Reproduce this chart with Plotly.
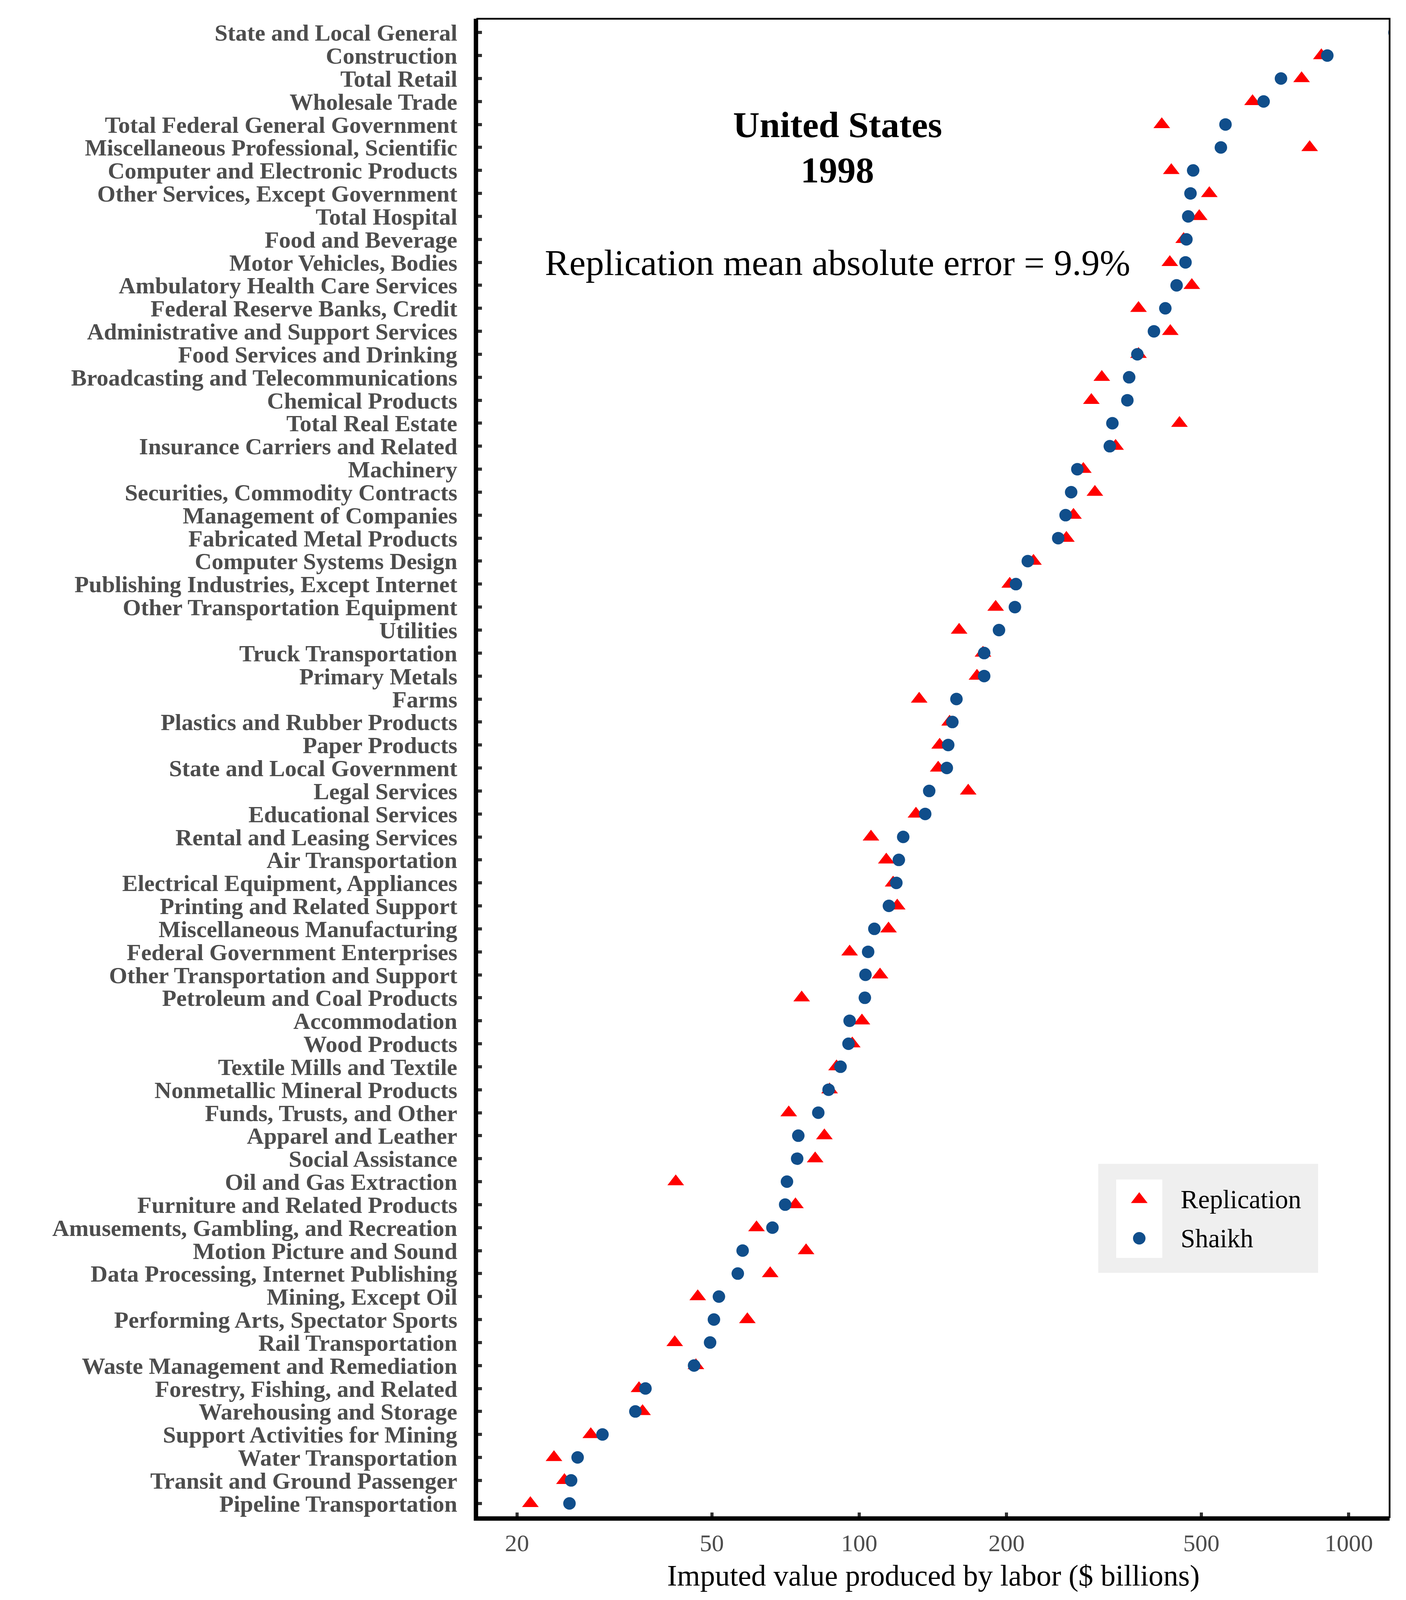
import plotly.graph_objects as go

industries = [
    "State and Local General", "Construction", "Total Retail", "Wholesale Trade",
    "Total Federal General Government", "Miscellaneous Professional, Scientific",
    "Computer and Electronic Products", "Other Services, Except Government",
    "Total Hospital", "Food and Beverage", "Motor Vehicles, Bodies",
    "Ambulatory Health Care Services", "Federal Reserve Banks, Credit",
    "Administrative and Support Services", "Food Services and Drinking",
    "Broadcasting and Telecommunications", "Chemical Products", "Total Real Estate",
    "Insurance Carriers and Related", "Machinery", "Securities, Commodity Contracts",
    "Management of Companies", "Fabricated Metal Products", "Computer Systems Design",
    "Publishing Industries, Except Internet", "Other Transportation Equipment",
    "Utilities", "Truck Transportation", "Primary Metals", "Farms",
    "Plastics and Rubber Products", "Paper Products", "State and Local Government",
    "Legal Services", "Educational Services", "Rental and Leasing Services",
    "Air Transportation", "Electrical Equipment, Appliances",
    "Printing and Related Support", "Miscellaneous Manufacturing",
    "Federal Government Enterprises", "Other Transportation and Support",
    "Petroleum and Coal Products", "Accommodation", "Wood Products",
    "Textile Mills and Textile", "Nonmetallic Mineral Products",
    "Funds, Trusts, and Other", "Apparel and Leather", "Social Assistance",
    "Oil and Gas Extraction", "Furniture and Related Products",
    "Amusements, Gambling, and Recreation", "Motion Picture and Sound",
    "Data Processing, Internet Publishing", "Mining, Except Oil",
    "Performing Arts, Spectator Sports", "Rail Transportation",
    "Waste Management and Remediation", "Forestry, Fishing, and Related",
    "Warehousing and Storage", "Support Activities for Mining",
    "Water Transportation", "Transit and Ground Passenger", "Pipeline Transportation",
]

shaikh = [
    1240, 904, 727, 670, 560, 548, 481, 475, 470, 466, 464,
    445, 422, 400, 370, 356, 353, 329, 325, 279, 271, 264,
    255, 221, 209, 208, 193, 180, 180, 158, 155, 152, 151,
    139, 136.4, 123, 120.5, 119.1, 115, 107.4, 104.3, 103, 102.7, 95.6,
    95.1, 91.6, 86.6, 82.5, 75.1, 74.7, 71.2, 70.6, 66.5, 57.8, 56.5,
    51.7, 50.5, 49.6, 46.0, 36.6, 34.9, 29.9, 26.6, 25.8, 25.6,
]

replication = [
    1350, 879, 801, 636, 415, 832, 434, 519, 495, 460, 431,
    478, 372, 432, 372, 313, 298, 451, 334, 287, 303, 274,
    265, 227, 203, 190, 160, 179, 174, 132.6, 153, 146, 145,
    167, 130.6, 105.7, 113.6, 117.3, 119.6, 114.8, 95.6, 110.3, 76.3, 101.3,
    96.8, 89.9, 87.0, 71.8, 84.9, 81.3, 42.2, 74.1, 61.7, 77.9, 65.8,
    46.8, 59.1, 42.0, 46.4, 35.5, 36.1, 28.3, 23.8, 25.0, 21.3,
]

x_ticks = [20, 50, 100, 200, 500, 1000]
x_tick_labels = ["20", "50", "100", "200", "500", "1000"]

title_lines = ["United States", "1998"]
error_text = "Replication mean absolute error = 9.9%"
x_title = "Imputed value produced by labor ($ billions)"
series_names = ["Replication", "Shaikh"]

RED = "#FF0000"
BLUE = "#104E8B"
FONT = "Liberation Serif"

# the photographed area is 3600 wide and about 4080 tall; vertical layout scaled to fit
REF_H = 4800
W, H = 3600, 4080
SY = H / REF_H
L, R = 1214, 50
T, B = round(47 * SY), round((REF_H - 4560) * SY)
PW, PH = W - L - R, H - T - B


def px_x(p):
    return (p - L) / PW


def px_y(p):
    # p is a y position measured on the 4800-tall reference
    return (H - B - p * SY) / PH


fig = go.Figure()
fig.add_trace(go.Scatter(
    x=replication, y=industries, mode="markers", name=series_names[0],
    marker=dict(symbol="triangle-up", size=37, color=RED, line=dict(width=0)),
    showlegend=False,
))
fig.add_trace(go.Scatter(
    x=shaikh, y=industries, mode="markers", name=series_names[1],
    marker=dict(symbol="circle", size=32, color=BLUE, line=dict(width=0)),
    showlegend=False,
))

# legend keys drawn on an overlay axis spanning the plot area
fig.add_trace(go.Scatter(
    x=[px_x(2909)], y=[px_y(3603)], xaxis="x2", yaxis="y2", mode="markers",
    marker=dict(symbol="triangle-up", size=37, color=RED, line=dict(width=0)),
    showlegend=False, cliponaxis=False, hoverinfo="skip",
))
fig.add_trace(go.Scatter(
    x=[px_x(2909)], y=[px_y(3720)], xaxis="x2", yaxis="y2", mode="markers",
    marker=dict(symbol="circle", size=32, color=BLUE, line=dict(width=0)),
    showlegend=False, cliponaxis=False, hoverinfo="skip",
))

n = len(industries)
fig.update_layout(
    template="none",
    width=W, height=H,
    margin=dict(l=L, r=R, t=T, b=B, pad=0),
    paper_bgcolor="white", plot_bgcolor="white",
    font=dict(family=FONT, color="black"),
    showlegend=False,
    xaxis=dict(
        type="log", range=[1.2199, 3.0834],
        tickmode="array", tickvals=x_ticks, ticktext=x_tick_labels,
        showgrid=False, zeroline=False, automargin=False,
        showline=True, linecolor="black", linewidth=9,
        ticks="inside", ticklen=12, tickwidth=8, tickcolor="#333333",
        tickfont=dict(family=FONT, size=62, color="#4D4D4D"),
        ticklabelstandoff=4,
        title=dict(text=x_title, font=dict(family=FONT, size=76, color="black"), standoff=26),
    ),
    yaxis=dict(
        type="category", categoryorder="array", categoryarray=industries,
        tickmode="array", tickvals=industries, ticktext=industries,
        range=[n - 0.4, -0.6],
        showgrid=False, zeroline=False, automargin=False,
        showline=True, linecolor="black", linewidth=9,
        ticks="inside", ticklen=12, tickwidth=8, tickcolor="#333333",
        tickfont=dict(family=FONT, size=60, color="#4D4D4D", weight="bold"),
        ticklabelstandoff=30,
    ),
    xaxis2=dict(domain=[0, 1], range=[0, 1], overlaying="x", anchor="y2", visible=False),
    yaxis2=dict(domain=[0, 1], range=[0, 1], overlaying="y", anchor="x2", visible=False),
    shapes=[
        dict(type="rect", xref="x domain", yref="y domain", x0=0, x1=1, y0=0, y1=1,
             line=dict(color="black", width=4.5), fillcolor="rgba(0,0,0,0)", layer="above"),
        dict(type="rect", xref="paper", yref="paper",
             x0=px_x(2804), x1=px_x(3367), y0=px_y(3824), y1=px_y(3496),
             line=dict(width=0), fillcolor="#EFEFEF", layer="below"),
        dict(type="rect", xref="paper", yref="paper",
             x0=px_x(2850), x1=px_x(2968), y0=px_y(3779), y1=px_y(3543),
             line=dict(width=0), fillcolor="white", layer="below"),
    ],
    annotations=[
        dict(text="<b>%s</b>" % title_lines[0], xref="paper", yref="paper",
             x=px_x(2136), y=px_y(366), xanchor="center", yanchor="middle",
             showarrow=False, font=dict(family=FONT, size=94, color="black")),
        dict(text="<b>%s</b>" % title_lines[1], xref="paper", yref="paper",
             x=px_x(2136), y=px_y(502), xanchor="center", yanchor="middle",
             showarrow=False, font=dict(family=FONT, size=94, color="black")),
        dict(text=error_text, xref="paper", yref="paper",
             x=px_x(2136), y=px_y(781), xanchor="center", yanchor="middle",
             showarrow=False, font=dict(family=FONT, size=94, color="black")),
        dict(text=series_names[0], xref="paper", yref="paper",
             x=px_x(3013), y=px_y(3602), xanchor="left", yanchor="middle",
             showarrow=False, font=dict(family=FONT, size=67, color="black")),
        dict(text=series_names[1], xref="paper", yref="paper",
             x=px_x(3013), y=px_y(3720), xanchor="left", yanchor="middle",
             showarrow=False, font=dict(family=FONT, size=67, color="black")),
    ],
)

fig.write_html("out.html")
